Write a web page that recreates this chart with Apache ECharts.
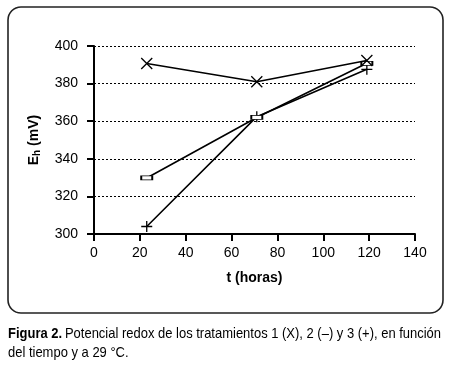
<!DOCTYPE html>
<html><head><meta charset="utf-8">
<script src="https://cdn.jsdelivr.net/npm/echarts@6/dist/echarts.min.js"></script>
<style>html,body{margin:0;padding:0;background:#fff}#c{width:450px;height:371px}</style>
</head><body><div id="c"></div>
<script>
const times = [23, 71, 119];
const trat1 = [390.7, 381, 392.3];   // (X)
const trat2 = [329.8, 362, 390.8];   // (−)
const trat3 = [304, 362.4, 387.6];   // (+)
const xTicks = [0, 20, 40, 60, 80, 100, 120, 140];
const yTicks = [300, 320, 340, 360, 380, 400];

const pair = v => times.map((t, i) => [t, v[i]]);
const chart = echarts.init(document.getElementById('c'), null, {renderer: 'canvas'});
const lineStyle = {color: '#000', width: 1.6};
chart.setOption({
  animation: false,
  backgroundColor: '#fff',
  grid: {left: 94, right: 35, top: 46, bottom: 137},
  xAxis: {
    type: 'value', min: 0, max: 140, interval: 20,
    name: 't (horas)', nameLocation: 'middle', nameGap: 37,
    nameTextStyle: {fontFamily: 'Liberation Sans, Arial', fontWeight: 'bold', fontSize: 14, color: '#000'},
    axisLine: {show: true, onZero: false, lineStyle: {color: '#000', width: 2}},
    axisTick: {show: true, length: 7, lineStyle: {color: '#000', width: 2}},
    axisLabel: {margin: 12, fontFamily: 'Liberation Sans, Arial', fontSize: 14, color: '#000'},
    splitLine: {show: false}
  },
  yAxis: {
    type: 'value', min: 300, max: 400, interval: 20,
    name: '{b|E}{s|h}{b| (mV)}', nameLocation: 'middle', nameGap: 52, nameRotate: 90,
    nameTextStyle: {rich: {
      b: {fontFamily: 'Liberation Sans, Arial', fontWeight: 'bold', fontSize: 14, color: '#000'},
      s: {fontFamily: 'Liberation Sans, Arial', fontWeight: 'bold', fontSize: 10, color: '#000', verticalAlign: 'bottom', padding: [6, 0, 0, 0]}
    }},
    axisLine: {show: true, lineStyle: {color: '#000', width: 2}},
    axisTick: {show: true, length: 7, lineStyle: {color: '#000', width: 2}},
    axisLabel: {margin: 16, fontFamily: 'Liberation Sans, Arial', fontSize: 14, color: '#000'},
    splitLine: {show: true, lineStyle: {color: '#000', width: 1, type: [2, 2]}}
  },
  series: [
    {type: 'line', data: pair(trat3), lineStyle, symbol: 'path://M5,0L5,10M0,5L10,5', symbolSize: [11, 11],
     itemStyle: {color: 'none', borderColor: '#000', borderWidth: 1.3}, z: 3},
    {type: 'line', data: pair(trat2), lineStyle, symbol: 'rect', symbolSize: [11, 4],
     itemStyle: {color: '#fff', borderColor: '#000', borderWidth: 1.2}, z: 4},
    {type: 'line', data: pair(trat1), lineStyle, symbol: 'path://M0,0L10,10M10,0L0,10', symbolSize: [11, 11],
     itemStyle: {color: 'none', borderColor: '#000', borderWidth: 1.3}, z: 5}
  ],
  graphic: [
    {type: 'rect', shape: {x: 8, y: 7, width: 435, height: 306, r: 13},
     style: {fill: 'none', stroke: '#222', lineWidth: 1.6}, z: -1},
    {type: 'text', x: 8, y: 324, scaleX: 0.865, scaleY: 1,
     style: {text: '{b|Figura 2.} {n|Potencial redox de los tratamientos 1 (X), 2 (–) y 3 (+), en función}\n{n|del tiempo y a 29 °C.}',
       overflow: 'none',
       rich: {
         b: {fontFamily: 'Liberation Sans', fontWeight: 'bold', fontSize: 15, lineHeight: 19, fill: '#000'},
         n: {fontFamily: 'Liberation Sans', fontSize: 15, lineHeight: 19, fill: '#000'}
       }}}
  ]
});
</script></body></html>
